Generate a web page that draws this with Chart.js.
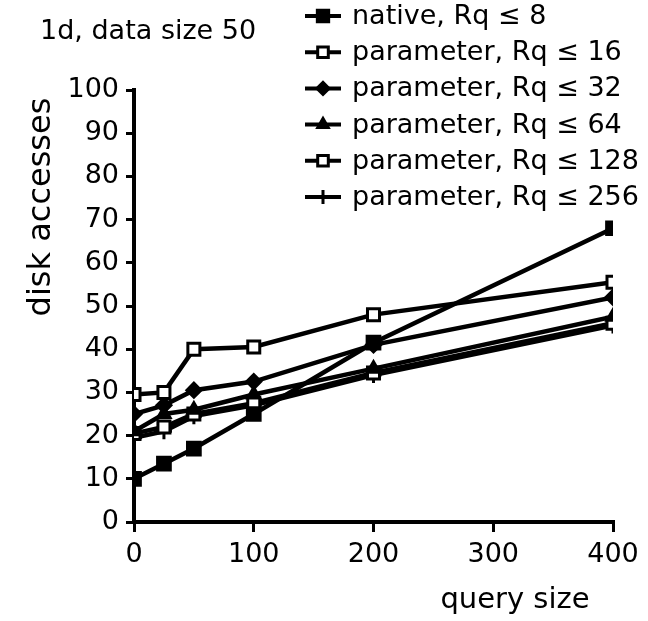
<!DOCTYPE html>
<html><head><meta charset="utf-8">
<script src="https://cdn.jsdelivr.net/npm/chart.js@4/dist/chart.umd.min.js"></script>
<style>html,body{margin:0;padding:0;background:#fff}canvas{display:block}</style>
</head><body>
<canvas id="c" width="648" height="621"></canvas>
<script>
const querySizes = [0, 25, 50, 100, 200, 400];
const nativeRq8 = [10, 13.5, 17, 25, 41.5, 68];
const paramRq16 = [29.5, 30, 40, 40.5, 48, 55.5];
const paramRq32 = [25, 27, 30.5, 32.5, 41, 52];
const paramRq64 = [21, 25, 26, 29.5, 35.5, 47.5];
const paramRq128 = [20.5, 22, 25, 27.5, 34.5, 46];
const paramRq256 = [19.5, 21, 24.5, 27, 34, 45.5];
const seriesLabels = ["native, Rq \u2264 8", "parameter, Rq \u2264 16", "parameter, Rq \u2264 32", "parameter, Rq \u2264 64", "parameter, Rq \u2264 128", "parameter, Rq \u2264 256"];
const xTicks = [0, 100, 200, 300, 400];
const yTicks = [0, 10, 20, 30, 40, 50, 60, 70, 80, 90, 100];
const titleText = "1d, data size 50";
const xTitle = "query size";
const yTitle = "disk accesses";

const FONT = "'DejaVu Sans', sans-serif";
const styles = [
  {pointStyle: 'rect', bg: '#000', r: 9},
  {pointStyle: 'rect', bg: '#fff', r: 8.5},
  {pointStyle: 'rectRot', bg: '#000', r: 7},
  {pointStyle: 'triangle', bg: '#000', r: 7},
  {pointStyle: 'rect', bg: '#fff', r: 8.5},
  {pointStyle: 'cross', bg: '#000', r: 8}
];
const allSeries = [nativeRq8, paramRq16, paramRq32, paramRq64, paramRq128, paramRq256];
const datasets = allSeries.map((s, i) => ({
  label: seriesLabels[i],
  data: s.map((v, j) => ({x: querySizes[j], y: v})),
  borderColor: '#000',
  borderWidth: 4.5,
  pointStyle: styles[i].pointStyle,
  pointRadius: styles[i].r,
  pointBackgroundColor: styles[i].bg,
  pointBorderColor: '#000',
  pointBorderWidth: 3,
  fill: false,
  tension: 0
}));

const decor = {
  id: 'decor',
  afterDraw(chart) {
    const ctx = chart.ctx;
    ctx.save();
    ctx.fillStyle = '#000';
    ctx.textBaseline = 'middle';
    ctx.textAlign = 'left';
    ctx.font = '27px ' + FONT;
    ctx.fillText(titleText, 40, 32);
    // legend
    const rowY0 = 16, rowGap = 36.2;
    chart.data.datasets.forEach((ds, i) => {
      const y = rowY0 + i * rowGap;
      ctx.strokeStyle = '#000';
      ctx.lineWidth = 4;
      ctx.beginPath(); ctx.moveTo(305, y); ctx.lineTo(341, y); ctx.stroke();
      ctx.lineWidth = 3;
      ctx.fillStyle = ds.pointBackgroundColor;
      ctx.strokeStyle = '#000';
      Chart.helpers.drawPoint(ctx, {pointStyle: ds.pointStyle, radius: ds.pointRadius - 1, borderWidth: 3, rotation: 0}, 323, y);
      ctx.fillStyle = '#000';
      ctx.font = '27px ' + FONT;
      ctx.fillText(ds.label, 352, y + 1);
    });
    // axis titles
    ctx.font = '29px ' + FONT;
    ctx.textAlign = 'center';
    ctx.fillText(xTitle, 515, 600);
    ctx.font = '32px ' + FONT;
    ctx.translate(42, 207);
    ctx.rotate(-Math.PI / 2);
    ctx.fillText(yTitle, 0, 0);
    ctx.restore();
  }
};

new Chart(document.getElementById('c'), {
  type: 'line',
  data: {datasets},
  plugins: [decor],
  options: {
    responsive: false,
    animation: false,
    events: [],
    layout: {padding: {top: 90, right: 35, left: 0, bottom: 0}},
    plugins: {legend: {display: false}, title: {display: false}, tooltip: {enabled: false}},
    scales: {
      x: {
        type: 'linear', min: 0, max: 400,
        afterBuildTicks: (axis) => { axis.ticks = xTicks.map(v => ({value: v})); },
        afterFit: (axis) => { axis.height = 99; },
        border: {display: true, color: '#000', width: 4},
        grid: {drawOnChartArea: false, drawTicks: true, tickLength: 10, color: '#000', lineWidth: 3},
        ticks: {color: '#000', font: {family: FONT, size: 27}, padding: 7, maxRotation: 0}
      },
      y: {
        type: 'linear', min: 0, max: 100,
        afterBuildTicks: (axis) => { axis.ticks = yTicks.map(v => ({value: v})); },
        afterFit: (axis) => { axis.width = 134; },
        border: {display: true, color: '#000', width: 4},
        grid: {drawOnChartArea: false, drawTicks: true, tickLength: 8, color: '#000', lineWidth: 3},
        ticks: {color: '#000', font: {family: FONT, size: 27}, padding: 7}
      }
    }
  }
});
</script>
</body></html>
